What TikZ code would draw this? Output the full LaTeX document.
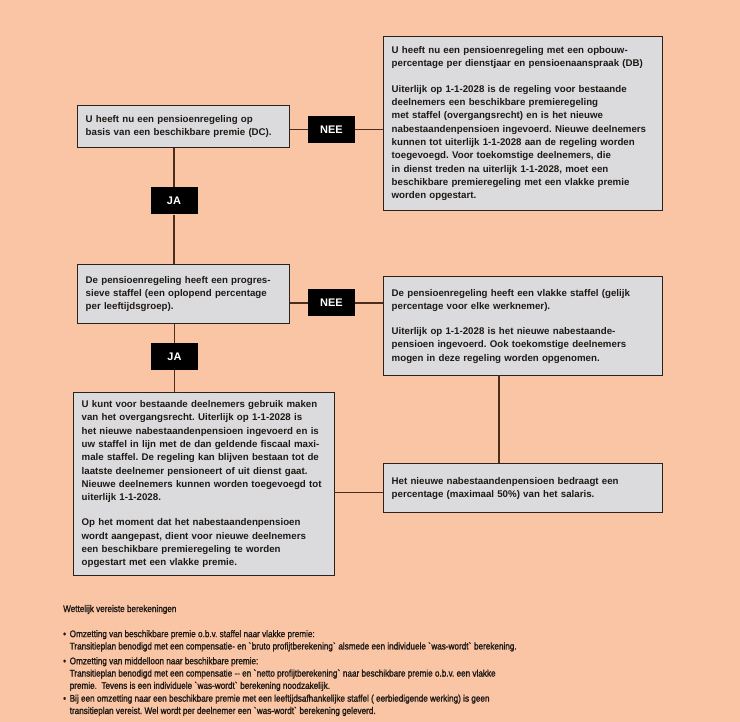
\documentclass[tikz,border=0pt]{standalone}
\usepackage{fontspec}
\newfontfamily\boxfont{Liberation Sans}[FakeStretch=1.0]
\newfontfamily\notefont{Liberation Sans}[FakeStretch=0.85,FakeBold=1.5]
\definecolor{peach}{RGB}{249,197,165}
\definecolor{boxgray}{RGB}{219,219,221}
\definecolor{edge}{RGB}{45,35,30}
\definecolor{wirecol}{RGB}{75,45,25}
\definecolor{ink}{RGB}{30,25,22}

\begin{document}
\frenchspacing
\begin{tikzpicture}[x=1pt,y=1pt,
  box/.style={draw=edge,line width=1.4pt,fill=boxgray,inner xsep=8pt,inner ysep=0pt,
    text=ink,align=left,anchor=north west,
    font=\boxfont\bfseries\fontsize{9.7}{13.3}\selectfont},
  answer/.style={fill=black,text=white,minimum width=47pt,minimum height=27pt,inner sep=0pt,
    font=\boxfont\bfseries\fontsize{11}{13}\selectfont},
  wire/.style={draw=wirecol,line width=1.2pt},
  note/.style={text=ink,align=left,anchor=base west,inner sep=0pt,
    font=\notefont\fontsize{9.6}{12.3}\selectfont}]

% page
\fill[peach] (0,0) rectangle (740,-722);
\useasboundingbox (0,0) rectangle (740,-722);

% left column: questions
\node[box,text width=196pt,minimum height=42pt] (dc) at (77,-105)
  {U heeft nu een pensioenregeling op\\basis van een beschikbare premie (DC).};
\node[box,text width=196pt,minimum height=59pt] (prog) at (77,-264)
  {De pensioenregeling heeft een progres-\\sieve staffel (een oplopend percentage\\per leeftijdsgroep).};
\node[box,text width=245pt,minimum height=183pt] (trans) at (73,-392)
  {U kunt voor bestaande deelnemers gebruik maken\\van het overgangsrecht. Uiterlijk op 1-1-2028 is\\
   het nieuwe nabestaandenpensioen ingevoerd en is\\uw staffel in lijn met de dan geldende fiscaal maxi-\\
   male staffel. De regeling kan blijven bestaan tot de\\laatste deelnemer pensioneert of uit dienst gaat.\\
   Nieuwe deelnemers kunnen worden toegevoegd tot\\uiterlijk 1-1-2028.\\[12pt]
   Op het moment dat het nabestaandenpensioen\\wordt aangepast, dient voor nieuwe deelnemers\\
   een beschikbare premieregeling te worden\\opgestart met een vlakke premie.};

% right column: outcomes
\node[box,text width=263pt,minimum height=174pt] (db) at (383,-36)
  {U heeft nu een pensioenregeling met een opbouw-\\percentage per dienstjaar en pensioenaanspraak (DB)\\[12pt]
   Uiterlijk op 1-1-2028 is de regeling voor bestaande\\deelnemers een beschikbare premieregeling\\
   met staffel (overgangsrecht) en is het nieuwe\\nabestaandenpensioen ingevoerd. Nieuwe deelnemers\\
   kunnen tot uiterlijk 1-1-2028 aan de regeling worden\\toegevoegd. Voor toekomstige deelnemers, die\\
   in dienst treden na uiterlijk 1-1-2028, moet een\\beschikbare premieregeling met een vlakke premie\\
   worden opgestart.};
\node[box,text width=263pt,minimum height=99pt] (flat) at (383,-276)
  {De pensioenregeling heeft een vlakke staffel (gelijk\\percentage voor elke werknemer).\\[12pt]
   Uiterlijk op 1-1-2028 is het nieuwe nabestaande-\\pensioen ingevoerd. Ook toekomstige deelnemers\\
   mogen in deze regeling worden opgenomen.};
\node[box,text width=263pt,minimum height=49pt] (nbp) at (383,-463)
  {Het nieuwe nabestaandenpensioen bedraagt een\\percentage (maximaal 50\%) van het salaris.};

% answers
\node[answer] (nee1) at (331.5,-129.5) {NEE};
\node[answer] (ja1) at (174,-201) {JA};
\node[answer] (nee2) at (331.5,-303) {NEE};
\node[answer] (ja2) at (174.5,-356.5) {JA};

% connectors
\coordinate (drop) at (499,-375);
\coordinate (link) at (334,-492.5);
\draw[wire] (dc.east |- nee1) -- (nee1) -- (nee1 -| db.west);
\draw[wire] (dc.south -| ja1) -- (ja1) -- (prog.north -| ja1);
\draw[wire] (prog.east |- nee2) -- (nee2) -- (nee2 -| flat.west);
\draw[wire] (prog.south -| ja2) -- (ja2) -- (trans.north -| ja2);
\draw[wire] (drop) -- (drop |- nbp.north);
\draw[wire] (link) -- (link -| nbp.west);

% notes below
\node[note] (title) at (63,-612) {Wettelijk vereiste berekeningen};
\node[note,anchor=north west] (list) at (63,-630)
  {\makebox[6.5pt][l]{•}Omzetting van beschikbare premie o.b.v. staffel naar vlakke premie:\\
   \hspace*{6.5pt}Transitieplan benodigd met een compensatie- en \textasciigrave bruto profijtberekening\textasciigrave\ alsmede een individuele \textasciigrave was-wordt\textasciigrave\ berekening.\\[2.5pt]
   \makebox[6.5pt][l]{•}Omzetting van middelloon naar beschikbare premie:\\
   \hspace*{6.5pt}Transitieplan benodigd met een compensatie -- en \textasciigrave netto profijtberekening\textasciigrave\ naar beschikbare premie o.b.v. een vlakke\\
   \hspace*{6.5pt}premie.\ \ Tevens is een individuele \textasciigrave was-wordt\textasciigrave\ berekening noodzakelijk.\\[0.5pt]
   \makebox[6.5pt][l]{•}Bij een omzetting naar een beschikbare premie met een leeftijdsafhankelijke staffel ( eerbiedigende werking) is geen\\
   \hspace*{6.5pt}transitieplan vereist. Wel wordt per deelnemer een \textasciigrave was-wordt\textasciigrave\ berekening geleverd.};

\end{tikzpicture}
\end{document}
